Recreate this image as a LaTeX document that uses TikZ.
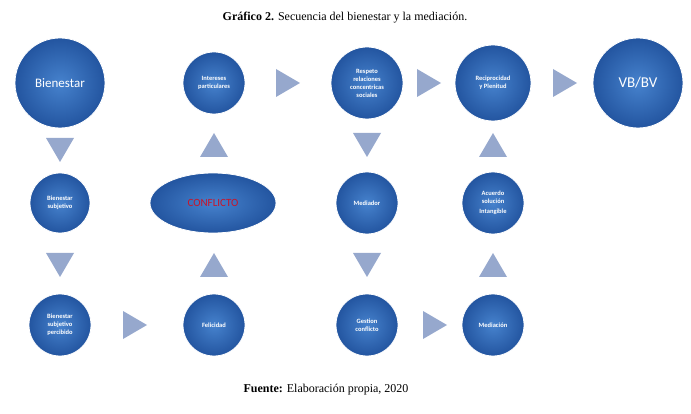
\documentclass[tikz,border=0pt]{standalone}
\usepackage{fontspec}
\usetikzlibrary{shapes.geometric}
\setmainfont{Liberation Serif}
\newfontfamily\calfont{Carlito}
\definecolor{bin}{RGB}{70,130,205}
\definecolor{bout}{RGB}{35,85,160}
\definecolor{trc}{RGB}{150,168,205}
\definecolor{cred}{RGB}{200,20,40}
\begin{document}
\begin{tikzpicture}[x=1pt,y=-1pt,
 bub/.style={circle,inner color=bin,outer color=bout,
   draw=white,line width=0.8pt,minimum size=#1,inner sep=0pt,text=white,align=center,font=\calfont\bfseries\fontsize{6.5}{8}\selectfont},
 tri/.style={fill=trc,draw=none}]
\useasboundingbox (0,0) rectangle (691,414);
\node[font=\fontsize{12}{14}\selectfont] (title) at (345,18) {\textbf{Gráfico 2.} Secuencia del bienestar y la mediación.};
\node[font=\fontsize{12}{14}\selectfont] (foot) at (326,390) {\textbf{Fuente:} Elaboración propia, 2020};
\node[bub=90pt,font=\calfont\fontsize{13}{15}\selectfont] (b) at (60,83) {Bienestar};
\node[bub=62pt] (ip) at (214,83) {Intereses\\particulares};
\node[bub=72pt] (rr) at (367,83) {Respeto\\relaciones\\concentricas\\sociales};
\node[bub=76pt] (rp) at (493,83) {Reciprocidad\\y Plenitud};
\node[bub=90pt,font=\calfont\fontsize{15}{17}\selectfont] (vb) at (638,83) {VB/BV};
\node[bub=60pt] (bs) at (60,203) {Bienestar\\subjetivo};
\node[bub=60pt,ellipse,minimum width=126pt,minimum height=60pt,text=cred,font=\calfont\fontsize{11}{13}\selectfont] (cf) at (213,203) {CONFLICTO};
\node[bub=62pt] (md) at (367,203) {Mediador};
\node[bub=62pt] (ac) at (493,203) {Acuerdo\\solución\\[2pt]Intangible};
\node[bub=62pt] (bp) at (60,325) {Bienestar\\subjetivo\\percibido};
\node[bub=62pt] (fe) at (214,325) {Felicidad};
\node[bub=62pt] (gc) at (367,325) {Gestion\\conflicto};
\node[bub=62pt] (me) at (493,325) {Mediación};
\foreach \x/\y in {288/83,429/83,565/83,135/325,435/325}
  \fill[tri] (\x-12,\y-14) -- (\x+12,\y) -- (\x-12,\y+14) -- cycle;
\foreach \x/\y in {60/150,60/265,367/145,367/265}
  \fill[tri] (\x-14,\y-12) -- (\x+14,\y-12) -- (\x,\y+12) -- cycle;
\foreach \x/\y in {214/145,214/265,493/145,493/265}
  \fill[tri] (\x-14,\y+12) -- (\x+14,\y+12) -- (\x,\y-12) -- cycle;
\end{tikzpicture}
\end{document}
